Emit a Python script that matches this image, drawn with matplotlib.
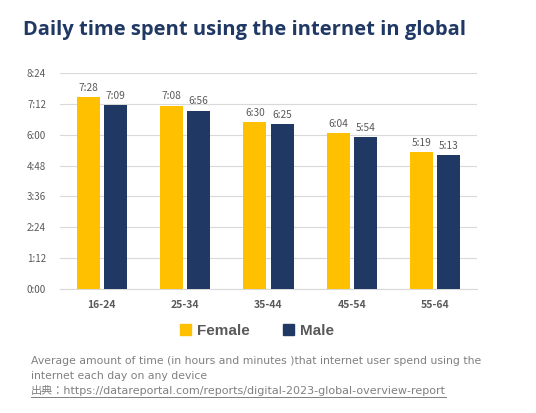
import numpy as np
import matplotlib
matplotlib.use("Agg")
import matplotlib.pyplot as plt
from matplotlib.patches import Patch

plt.rcParams['font.family'] = ['Noto Sans CJK JP', 'DejaVu Sans']

age_groups = ["16-24", "25-34", "35-44", "45-54", "55-64"]
female_labels = ["7:28", "7:08", "6:30", "6:04", "5:19"]
male_labels = ["7:09", "6:56", "6:25", "5:54", "5:13"]
ytick_labels = ["0:00", "1:12", "2:24", "3:36", "4:48", "6:00", "7:12", "8:24"]


def to_minutes(s):
    h, m = s.split(":")
    return int(h) * 60 + int(m)


female = [to_minutes(s) for s in female_labels]
male = [to_minutes(s) for s in male_labels]
yticks = [to_minutes(s) for s in ytick_labels]

GOLD = "#FFC000"
NAVY = "#203864"
GRAY = "#595959"
FOOT = "#808080"

fig = plt.figure(figsize=(5.36, 4.13), dpi=100)
ax = fig.add_axes([60 / 536, 1 - 289 / 413, 417 / 536, 216 / 413])

x = np.arange(len(age_groups))
w = 0.275
gap = 0.025
ax.bar(x - w / 2 - gap, female, w, color=GOLD, zorder=3)
ax.bar(x + w / 2 + gap, male, w, color=NAVY, zorder=3)

for i in range(len(x)):
    ax.text(x[i] - w / 2 - gap, female[i] + 10, female_labels[i], ha="center",
            va="bottom", fontsize=7.3, color=GRAY)
    ax.text(x[i] + w / 2 + gap, male[i] + 10, male_labels[i], ha="center",
            va="bottom", fontsize=7.3, color=GRAY)

ax.set_xlim(-0.5, len(x) - 0.5)
ax.set_ylim(0, yticks[-1])
ax.set_yticks(yticks)
ax.set_yticklabels(ytick_labels, fontsize=7, color=GRAY)
ax.set_xticks(x)
ax.set_xticklabels(age_groups, fontsize=7.5, color=GRAY, fontweight="bold")
ax.tick_params(length=0, pad=8)
ax.tick_params(axis="y", pad=10)
ax.grid(axis="y", color="#D9D9D9", lw=0.8, zorder=0)
for s in ["top", "right", "left"]:
    ax.spines[s].set_visible(False)
ax.spines["bottom"].set_color("#D9D9D9")

fig.text(23 / 536, 1 - 30 / 413, "Daily time spent using the internet in global",
         fontsize=14.5, fontweight="bold", color=NAVY, va="center",
         family=["Open Sans", "DejaVu Sans"])

handles = [Patch(color=GOLD, label="Female"), Patch(color=NAVY, label="Male")]
fig.legend(handles=handles, loc="center", bbox_to_anchor=(257 / 536, 1 - 331 / 413),
           ncol=2, frameon=False, handlelength=0.7, handleheight=0.7,
           handletextpad=0.4, columnspacing=2.2,
           prop={"weight": "bold", "size": 11, "family": "Liberation Sans"})
for t in fig.legends[0].get_texts():
    t.set_color(GRAY)

foot_lines = [
    "Average amount of time (in hours and minutes )that internet user spend using the",
    "internet each day on any device",
]
foot_y = [361, 376]
for line, yy in zip(foot_lines, foot_y):
    fig.text(31 / 536, 1 - yy / 413, line, fontsize=7.8, color=FOOT, va="center",
             family=["DejaVu Sans", "Noto Sans CJK JP"])
src = fig.text(31 / 536, 1 - 391 / 413,
               "出典：https://datareportal.com/reports/digital-2023-global-overview-report",
               fontsize=8.0, color=FOOT, va="center",
               family=["DejaVu Sans", "Noto Sans CJK JP"])
fig.canvas.draw()
bb = src.get_window_extent()
fig.add_artist(plt.Line2D([bb.x0 / 536, bb.x1 / 536],
                          [(bb.y0 - 0.5) / 413, (bb.y0 - 0.5) / 413],
                          color=FOOT, lw=0.7))

fig.savefig("out.png", dpi=100)
